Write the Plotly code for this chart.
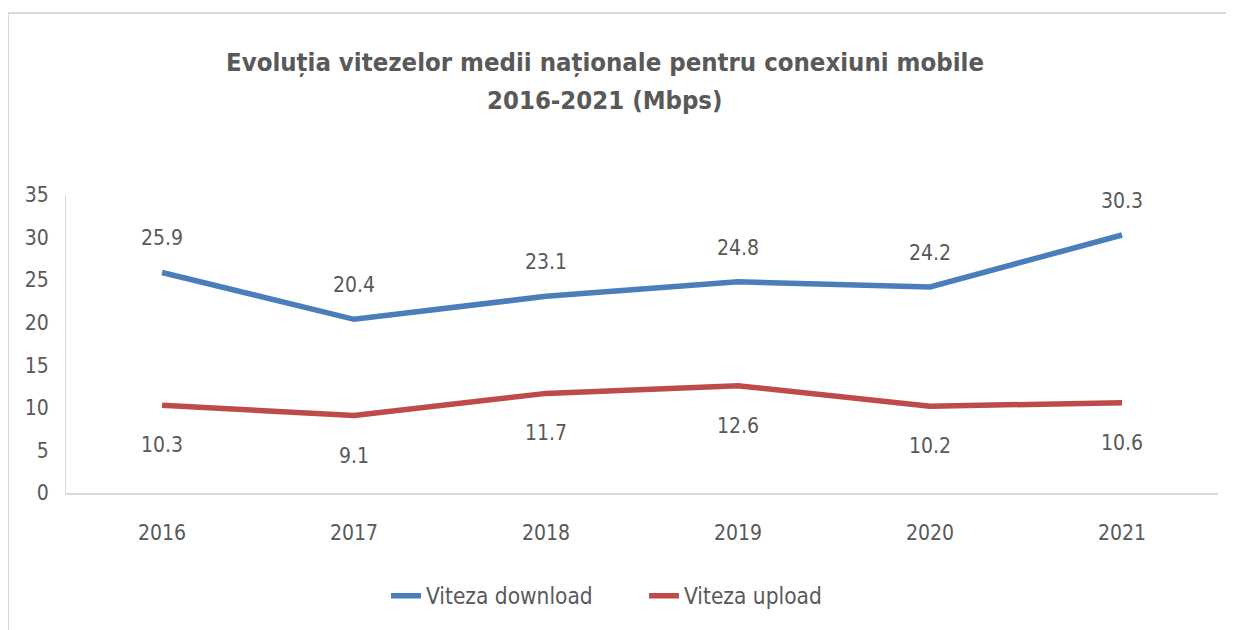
import plotly.graph_objects as go

years = ["2016", "2017", "2018", "2019", "2020", "2021"]
download = [25.9, 20.4, 23.1, 24.8, 24.2, 30.3]
upload = [10.3, 9.1, 11.7, 12.6, 10.2, 10.6]
series_names = ["Viteza download", "Viteza upload"]
y_ticks = [0, 5, 10, 15, 20, 25, 30, 35]
title_lines = ["Evoluția vitezelor medii naționale pentru conexiuni mobile", "2016-2021 (Mbps)"]

FONT = "DejaVu Sans Condensed, DejaVu Sans, sans-serif"
GREY = "#595959"
BLUE = "#4A7EBB"
RED = "#BE4B48"
FS = 21

fig = go.Figure()
fig.add_trace(go.Scatter(x=years, y=download, mode="lines", name=series_names[0],
                         line=dict(color=BLUE, width=5.5)))
fig.add_trace(go.Scatter(x=years, y=upload, mode="lines", name=series_names[1],
                         line=dict(color=RED, width=5.5)))

OFF = 8  # page offset of the figure in the browser
W, H = 1234, 630
ml = 66 - OFF
mt = 195 - OFF
mr = W - (1218 - OFF)
mb = H - (493 - OFF)
pw = W - ml - mr
ph = H - mt - mb

def px_x(px):
    return (px - OFF - ml) / pw

def px_y(py):
    return (H - mb - (py - OFF)) / ph

annotations = []
for i, v in enumerate(download):
    annotations.append(dict(x=i, y=v, xref="x", yref="y", text=f"{v:.1f}", showarrow=False,
                            yshift=34, font=dict(family=FONT, size=FS, color=GREY)))
for i, v in enumerate(upload):
    annotations.append(dict(x=i, y=v, xref="x", yref="y", text=f"{v:.1f}", showarrow=False,
                            yshift=-40, font=dict(family=FONT, size=FS, color=GREY)))
for line, yc in zip(title_lines, [62, 100]):
    annotations.append(dict(x=px_x(605), y=px_y(yc), xref="paper", yref="paper",
                            xanchor="center", yanchor="middle", showarrow=False,
                            text=f"<b>{line}</b>",
                            font=dict(family=FONT, size=25.5, color=GREY)))

fig.update_layout(
    width=W, height=H,
    margin=dict(l=ml, r=mr, t=mt, b=mb),
    paper_bgcolor="white", plot_bgcolor="white",
    xaxis=dict(type="category", range=[-0.5, 5.5], showgrid=False, zeroline=False,
               showline=True, linecolor="#D9D9D9", linewidth=2, ticks="",
               tickfont=dict(family=FONT, size=FS, color=GREY), ticklabelstandoff=20),
    yaxis=dict(range=[0, 35], tickvals=y_ticks, showgrid=False, zeroline=False,
               showline=True, linecolor="#D9D9D9", linewidth=1, ticks="",
               tickfont=dict(family=FONT, size=FS, color=GREY), ticklabelstandoff=12),
    legend=dict(orientation="h", x=px_x(644), xanchor="center", y=px_y(596), yanchor="middle",
                font=dict(family=FONT, size=22.5, color=GREY), entrywidth=213,
                traceorder="normal"),
    annotations=annotations,
    shapes=[dict(type="rect", xref="paper", yref="paper",
                 x0=px_x(8), x1=px_x(1250), y0=px_y(13), y1=px_y(650),
                 line=dict(color="#D9D9D9", width=2), fillcolor="rgba(0,0,0,0)", layer="below")],
    showlegend=True,
)

fig.write_html("out.html")
